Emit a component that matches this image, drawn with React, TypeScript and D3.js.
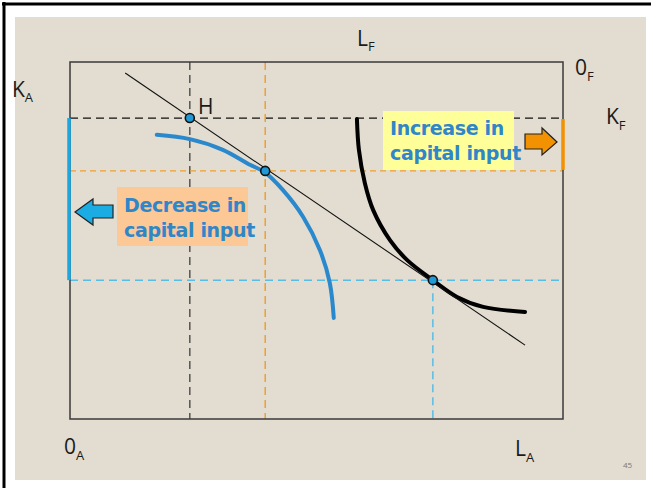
import React from "react";
import * as d3 from "d3";

// Isoquant of country A (blue, concave toward origin of F)
const isoA_L = [17.6, 24.3, 31.0, 36.5, 39.4, 43.2, 47.3, 50.7, 52.7, 53.5];
const isoA_K = [79.6, 78.4, 75.4, 71.2, 69.2, 64.1, 56.6, 47.3, 38.1, 28.3];
// Isoquant of country F (black)
const isoF_L = [58.2, 58.6, 59.8, 61.5, 64.9, 68.4, 73.6, 78.5, 83.8, 92.3];
const isoF_K = [84.0, 75.4, 66.1, 58.5, 50.1, 44.5, 38.9, 34.2, 31.4, 30.0];
// Factor price line
const budget_L = [11.2, 92.3];
const budget_K = [96.9, 20.7];
// Key points: H, A-tangency, F-tangency
const pointNames = ["H", "EA", "EF"];
const point_L = [24.3, 39.6, 73.6];
const point_K = [84.3, 69.5, 38.9];

const W = 651;
const H = 488;

export default function App() {
  const x = d3.scaleLinear().domain([0, 100]).range([70, 563]);
  const y = d3.scaleLinear().domain([0, 100]).range([419, 62]);
  const line = d3
    .line<[number, number]>()
    .x((d) => x(d[0]))
    .y((d) => y(d[1]))
    .curve(d3.curveCatmullRom.alpha(0.5));
  const straight = d3
    .line<[number, number]>()
    .x((d) => x(d[0]))
    .y((d) => y(d[1]));

  const isoA = isoA_L.map((l, i) => [l, isoA_K[i]] as [number, number]);
  const isoF = isoF_L.map((l, i) => [l, isoF_K[i]] as [number, number]);
  const budget = budget_L.map((l, i) => [l, budget_K[i]] as [number, number]);

  const [hL, aL, fL] = point_L;
  const [hK, aK, fK] = point_K;

  const labelFont = "'Open Sans', 'DejaVu Sans', sans-serif";
  const boldFont = "'DejaVu Sans', sans-serif";
  const textBlue = "#2f86c9";

  return (
    <svg
      width={W}
      height={H}
      style={{ position: "absolute", left: 0, top: 0, background: "#fff" }}
    >
      {/* slide background */}
      <rect x={0} y={0} width={W} height={H} fill="#ffffff" />
      <rect x={15} y={17} width={631} height={463} fill="#e2dcd1" />
      <line x1={2} y1={4} x2={W} y2={4} stroke="#000" strokeWidth={3} />
      <line x1={4} y1={2} x2={4} y2={H} stroke="#000" strokeWidth={3} />

      {/* dashed guide lines */}
      <line x1={x(0)} x2={x(100)} y1={y(hK)} y2={y(hK)} stroke="#111" strokeWidth={1.2} strokeDasharray="8,5" />
      <line x1={x(hL)} x2={x(hL)} y1={y(100)} y2={y(0)} stroke="#555" strokeWidth={1.5} strokeDasharray="8,5" />
      <line x1={x(0)} x2={x(100)} y1={y(aK)} y2={y(aK)} stroke="#f0a030" strokeWidth={1.2} strokeDasharray="6,4" />
      <line x1={x(aL)} x2={x(aL)} y1={y(100)} y2={y(0)} stroke="#f0a030" strokeWidth={1.5} strokeDasharray="8,5" />
      <line x1={x(0)} x2={x(100)} y1={y(fK)} y2={y(fK)} stroke="#58bde6" strokeWidth={1.5} strokeDasharray="8,5" />
      <line x1={x(fL)} x2={x(fL)} y1={y(fK)} y2={y(0)} stroke="#58bde6" strokeWidth={1.5} strokeDasharray="8,5" />

      {/* Edgeworth box */}
      <rect x={x(0)} y={y(100)} width={x(100) - x(0)} height={y(0) - y(100)} fill="none" stroke="#3a3a3a" strokeWidth={1.5} />

      {/* capital change bars */}
      <line x1={x(0) - 1} x2={x(0) - 1} y1={y(hK)} y2={y(fK)} stroke="#1aa8e2" strokeWidth={3.5} />
      <line x1={x(100)} x2={x(100)} y1={y(hK) + 1} y2={y(aK) - 1} stroke="#f39200" strokeWidth={3.5} />

      {/* isoquants */}
      <path d={line(isoA) || ""} fill="none" stroke="#2a88cc" strokeWidth={4} strokeLinecap="round" />
      <path d={line(isoF) || ""} fill="none" stroke="#000" strokeWidth={4} strokeLinecap="round" />
      <path d={straight(budget) || ""} fill="none" stroke="#111" strokeWidth={1.1} />

      {/* points */}
      {pointNames.map((n, i) => (
        <circle key={n} cx={x(point_L[i])} cy={y(point_K[i])} r={4.5} fill="#1f9ad6" stroke="#111" strokeWidth={1.6} />
      ))}

      {/* text boxes */}
      <rect x={117} y={187} width={131} height={59} fill="#fcc896" />
      <text fontFamily={boldFont} fontWeight="bold" fontSize={19} letterSpacing={-0.35} fill={textBlue}>
        <tspan x={124} y={212}>Decrease in</tspan>
        <tspan x={124} y={237}>capital input</tspan>
      </text>
      <rect x={383} y={111} width={131} height={59} fill="#ffff99" />
      <text fontFamily={boldFont} fontWeight="bold" fontSize={19} letterSpacing={-0.35} fill={textBlue}>
        <tspan x={390} y={135}>Increase in</tspan>
        <tspan x={390} y={160}>capital input</tspan>
      </text>

      {/* arrows */}
      <path d="M75,212 L93,199 L93,205 L113,205 L113,218 L93,218 L93,225 Z" fill="#1aace3" stroke="#222" strokeWidth={1.2} />
      <path d="M557,142 L542,128 L542,134 L525,134 L525,149 L542,149 L542,155 Z" fill="#f39200" stroke="#222" strokeWidth={1.2} />

      {/* labels */}
      <g fontFamily={labelFont} fill="#1a1a1a">
        <text x={12} y={97} fontSize={21}>K<tspan dy={5} fontSize={13}>A</tspan></text>
        <text x={357} y={46} fontSize={21}>L<tspan dy={5} fontSize={13}>F</tspan></text>
        <text x={575} y={75} fontSize={21}>0<tspan dy={6} fontSize={13}>F</tspan></text>
        <text x={606} y={124} fontSize={21}>K<tspan dy={6} fontSize={13}>F</tspan></text>
        <text x={198} y={114} fontSize={21}>H</text>
        <text x={64} y={454} fontSize={21}>0<tspan dy={6} fontSize={13}>A</tspan></text>
        <text x={515} y={456} fontSize={21}>L<tspan dy={6} fontSize={13}>A</tspan></text>
        <text x={623} y={468} fontSize={8} fill="#777">45</text>
      </g>
    </svg>
  );
}
